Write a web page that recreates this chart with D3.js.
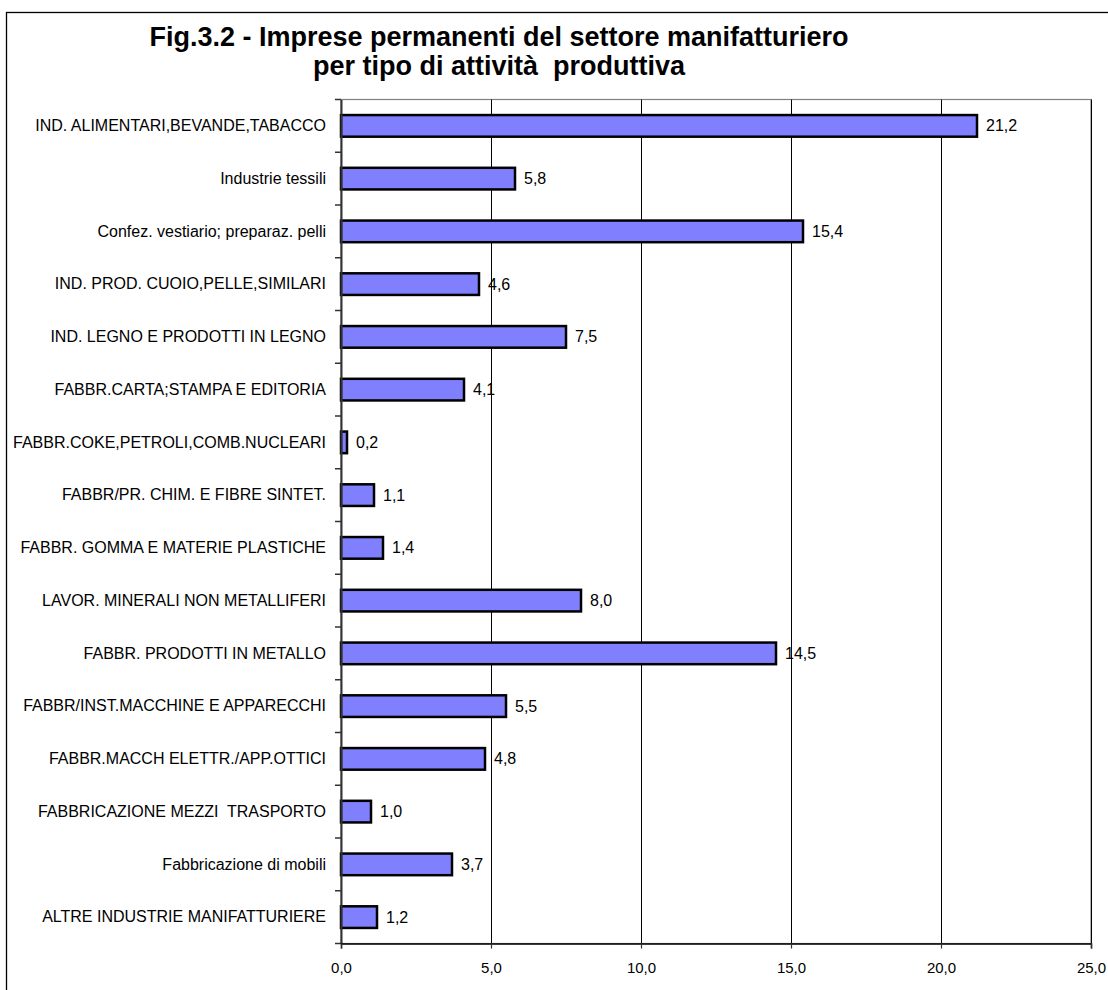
<!DOCTYPE html>
<html>
<head>
<meta charset="utf-8">
<script src="https://cdn.jsdelivr.net/npm/d3@7"></script>
<style>
  html, body { margin: 0; padding: 0; background: #fff; overflow: hidden; }
  svg { display: block; }
  text { font-family: "Liberation Sans", Arial, sans-serif; fill: #000; white-space: pre; }
</style>
</head>
<body>
<svg id="chart" width="1108" height="990"></svg>
<script>
const titleLines = [
  "Fig.3.2 - Imprese permanenti del settore manifatturiero",
  "per tipo di attività  produttiva"
];

const categories = [
  "IND. ALIMENTARI,BEVANDE,TABACCO",
  "Industrie tessili",
  "Confez. vestiario; preparaz. pelli",
  "IND. PROD. CUOIO,PELLE,SIMILARI",
  "IND. LEGNO E PRODOTTI IN LEGNO",
  "FABBR.CARTA;STAMPA E EDITORIA",
  "FABBR.COKE,PETROLI,COMB.NUCLEARI",
  "FABBR/PR. CHIM. E FIBRE SINTET.",
  "FABBR. GOMMA E MATERIE PLASTICHE",
  "LAVOR. MINERALI NON METALLIFERI",
  "FABBR. PRODOTTI IN METALLO",
  "FABBR/INST.MACCHINE E APPARECCHI",
  "FABBR.MACCH ELETTR./APP.OTTICI",
  "FABBRICAZIONE MEZZI  TRASPORTO",
  "Fabbricazione di mobili",
  "ALTRE INDUSTRIE MANIFATTURIERE"
];

const values = [21.2, 5.8, 15.4, 4.6, 7.5, 4.1, 0.2, 1.1, 1.4, 8.0, 14.5, 5.5, 4.8, 1.0, 3.7, 1.2];

const xTicks = [0, 5, 10, 15, 20, 25];

const svg = d3.select("#chart");
const fmt = v => d3.format(".1f")(v).replace(".", ",");

// outer chart frame (runs past the right and bottom edges)
svg.append("rect")
  .attr("x", 6.5).attr("y", 12.5)
  .attr("width", 1200).attr("height", 1100)
  .attr("fill", "none").attr("stroke", "#000").attr("stroke-width", 1.3);

// title
svg.append("g").selectAll("text")
  .data(titleLines)
  .join("text")
  .attr("x", 499)
  .attr("y", (d, i) => 46 + i * 29)
  .attr("text-anchor", "middle")
  .attr("font-size", 27)
  .attr("font-weight", "bold")
  .text(d => d);

const plot = { left: 341, right: 1091, top: 99.5, bottom: 943.5 };

const x = d3.scaleLinear().domain([0, 25]).range([plot.left, plot.right]);
const y = d3.scaleBand().domain(categories).range([plot.top, plot.bottom]).paddingInner(0.59).paddingOuter(0.295);

// plot area border (grey)
svg.append("rect")
  .attr("x", plot.left).attr("y", plot.top)
  .attr("width", plot.right - plot.left).attr("height", plot.bottom - plot.top)
  .attr("fill", "none").attr("stroke", "#808080").attr("stroke-width", 1.2);

// vertical gridlines
svg.append("g").selectAll("line")
  .data(xTicks.slice(1))
  .join("line")
  .attr("x1", d => Math.round(x(d)) + 0.5).attr("x2", d => Math.round(x(d)) + 0.5)
  .attr("y1", plot.top).attr("y2", plot.bottom)
  .attr("stroke", "#000").attr("stroke-width", 1);

// bars
svg.append("g").selectAll("rect")
  .data(values)
  .join("rect")
  .attr("x", x(0))
  .attr("y", (d, i) => y(categories[i]))
  .attr("width", d => x(d) - x(0))
  .attr("height", y.bandwidth())
  .attr("fill", "#8080FF")
  .attr("stroke", "#000")
  .attr("stroke-width", 2.5);

// value labels
svg.append("g").selectAll("text")
  .data(values)
  .join("text")
  .attr("x", d => x(d) + 9)
  .attr("y", (d, i) => y(categories[i]) + y.bandwidth() / 2)
  .attr("dy", "0.35em")
  .attr("font-size", 16)
  .text(d => fmt(d));

// y axis
const yAxisScale = d3.scaleBand().domain(categories).range([plot.top, plot.bottom]);
const yAxis = svg.append("g")
  .attr("transform", `translate(${plot.left},0)`)
  .call(d3.axisLeft(yAxisScale).tickSize(0).tickPadding(15));
yAxis.select(".domain").attr("stroke", "#333").attr("stroke-width", 2);
yAxis.selectAll("text")
  .attr("font-size", 16)
  .attr("font-family", "Liberation Sans, Arial, sans-serif")
  .attr("fill", "#000");

// y tick marks at category boundaries
const bounds = d3.range(categories.length + 1).map(i => plot.top + i * yAxisScale.step());
svg.append("g").selectAll("line")
  .data(bounds)
  .join("line")
  .attr("x1", plot.left - 6).attr("x2", plot.left)
  .attr("y1", d => d).attr("y2", d => d)
  .attr("stroke", "#333").attr("stroke-width", 1.5);

// x axis
const xAxis = svg.append("g")
  .attr("transform", `translate(0,${plot.bottom})`)
  .call(d3.axisBottom(x).tickValues(xTicks).tickFormat(fmt).tickSize(5).tickPadding(14));
xAxis.select(".domain").attr("stroke", "#000").attr("stroke-width", 1.5);
xAxis.selectAll(".tick line").attr("stroke", "#333").attr("stroke-width", 1.2);
xAxis.selectAll("text")
  .attr("font-size", 15)
  .attr("font-family", "Liberation Sans, Arial, sans-serif")
  .attr("fill", "#000");
</script>
</body>
</html>
